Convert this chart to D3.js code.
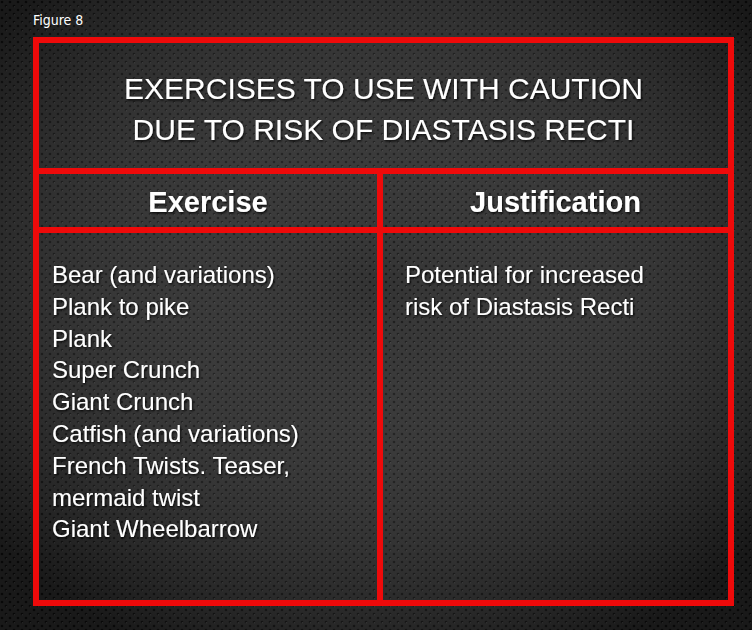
<!DOCTYPE html>
<html>
<head>
<meta charset="utf-8">
<script src="https://cdn.jsdelivr.net/npm/d3@7"></script>
<style>
  html, body { margin: 0; padding: 0; background: #1a1a1a; }
</style>
</head>
<body>
<div id="chart"></div>
<script>
const figureLabel = "Figure 8";
const titleLines = ["EXERCISES TO USE WITH CAUTION", "DUE TO RISK OF DIASTASIS RECTI"];
const headers = ["Exercise", "Justification"];
const exercises = [
  "Bear (and variations)",
  "Plank to pike",
  "Plank",
  "Super Crunch",
  "Giant Crunch",
  "Catfish (and variations)",
  "French Twists. Teaser,",
  "mermaid twist",
  "Giant Wheelbarrow"
];
const justification = ["Potential for increased", "risk of Diastasis Recti"];

const width = 752, height = 630;
const red = "#ee0a0a";
const font = "'Liberation Sans', Arial, Helvetica, sans-serif";

const svg = d3.select("#chart").append("svg")
  .attr("width", width).attr("height", height);

const defs = svg.append("defs");
const pat = defs.append("pattern").attr("id", "dots")
  .attr("width", 8).attr("height", 8).attr("patternUnits", "userSpaceOnUse");
pat.append("rect").attr("width", 8).attr("height", 8).attr("fill", "#262626");
pat.append("circle").attr("cx", 2).attr("cy", 2).attr("r", 1.3).attr("fill", "#0c0c0c");
pat.append("circle").attr("cx", 6).attr("cy", 6).attr("r", 1.3).attr("fill", "#0c0c0c");
pat.append("circle").attr("cx", 6.5).attr("cy", 6.8).attr("r", 0.8).attr("fill", "#3a3a3a");

const glow = defs.append("radialGradient").attr("id", "glow")
  .attr("cx", "50%").attr("cy", "45%").attr("r", "65%");
glow.append("stop").attr("offset", "0%").attr("stop-color", "#ffffff").attr("stop-opacity", 0.06);
glow.append("stop").attr("offset", "100%").attr("stop-color", "#000000").attr("stop-opacity", 0.35);

const shadow = defs.append("filter").attr("id", "shadow");
shadow.append("feDropShadow").attr("dx", 1).attr("dy", 1.5)
  .attr("stdDeviation", 1).attr("flood-color", "#000").attr("flood-opacity", 0.8);

svg.append("rect").attr("width", width).attr("height", height).attr("fill", "url(#dots)");
svg.append("rect").attr("width", width).attr("height", height).attr("fill", "url(#glow)");

// Figure label
svg.append("text").attr("x", 33).attr("y", 25)
  .attr("fill", "#fff")
  .attr("font-family", "'Liberation Sans Narrow', 'DejaVu Sans Condensed', sans-serif")
  .attr("font-size", 14).text(figureLabel);

// Table frame
const boxL = 36, boxR = 731, boxT = 40, boxB = 603;
const titleY = 171, headY = 230, colX = 380;
const g = svg.append("g").attr("stroke", red).attr("stroke-width", 6).attr("fill", "none");
g.append("rect").attr("x", boxL).attr("y", boxT)
  .attr("width", boxR - boxL).attr("height", boxB - boxT);
g.append("line").attr("x1", boxL).attr("x2", boxR).attr("y1", titleY).attr("y2", titleY);
g.append("line").attr("x1", boxL).attr("x2", boxR).attr("y1", headY).attr("y2", headY);
g.append("line").attr("x1", colX).attr("x2", colX).attr("y1", titleY).attr("y2", boxB);

const txt = svg.append("g").attr("fill", "#fff").attr("font-family", font)
  .attr("filter", "url(#shadow)");

// Title
txt.selectAll(".title").data(titleLines).enter().append("text")
  .attr("class", "title")
  .attr("x", (boxL + boxR) / 2)
  .attr("y", (d, i) => 99 + i * 41)
  .attr("text-anchor", "middle")
  .attr("font-size", 30)
  .text(d => d);

// Headers
const headCenters = [(boxL + colX) / 2, (colX + boxR) / 2];
txt.selectAll(".head").data(headers).enter().append("text")
  .attr("class", "head")
  .attr("x", (d, i) => headCenters[i])
  .attr("y", 212)
  .attr("text-anchor", "middle")
  .attr("font-size", 29)
  .attr("font-weight", "bold")
  .text(d => d);

// Body
const lineY = i => 283 + i * 31.8;
txt.selectAll(".ex").data(exercises).enter().append("text")
  .attr("class", "ex")
  .attr("x", 52).attr("y", (d, i) => lineY(i))
  .attr("font-size", 24)
  .text(d => d);
txt.selectAll(".just").data(justification).enter().append("text")
  .attr("class", "just")
  .attr("x", 405).attr("y", (d, i) => lineY(i))
  .attr("font-size", 24)
  .text(d => d);
</script>
</body>
</html>
